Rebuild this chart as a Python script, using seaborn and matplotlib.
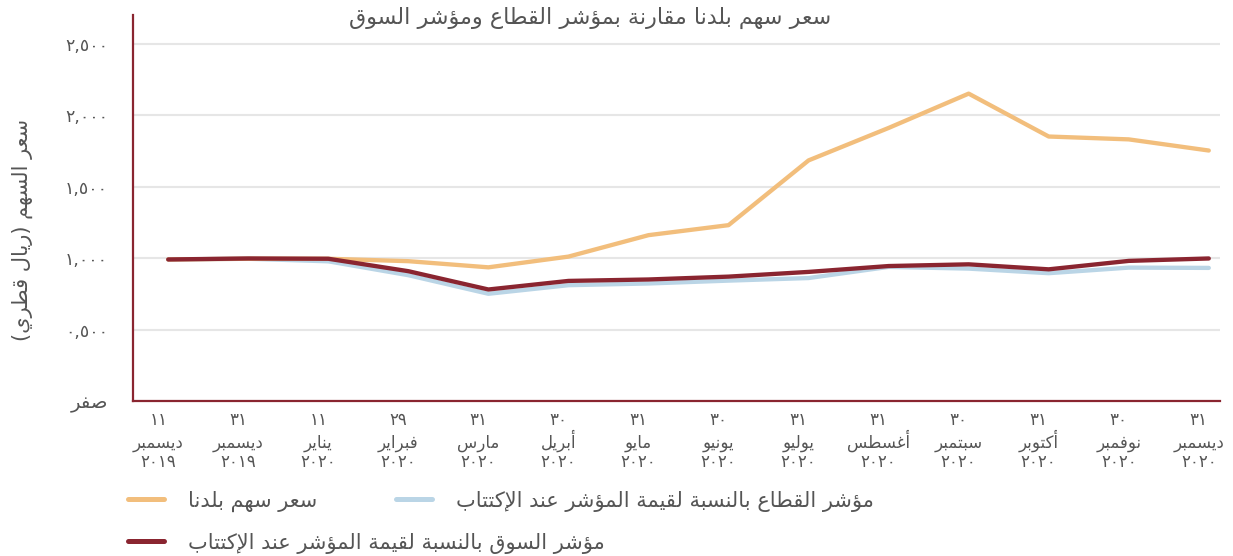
import matplotlib
matplotlib.use("Agg")
import matplotlib.pyplot as plt
import matplotlib.transforms as mtransforms
from matplotlib.lines import Line2D
import seaborn as sns
import pandas as pd

# ---------------- data ----------------
days = ['١١', '٣١', '١١', '٢٩', '٣١', '٣٠', '٣١', '٣٠', '٣١', '٣١', '٣٠', '٣١', '٣٠', '٣١']
months = ['ديسمبر', 'ديسمبر', 'يناير', 'فبراير', 'مارس', 'أبريل', 'مايو', 'يونيو',
          'يوليو', 'أغسطس', 'سبتمبر', 'أكتوبر', 'نوفمبر', 'ديسمبر']
years = ['٢٠١٩', '٢٠١٩', '٢٠٢٠', '٢٠٢٠', '٢٠٢٠', '٢٠٢٠', '٢٠٢٠', '٢٠٢٠',
         '٢٠٢٠', '٢٠٢٠', '٢٠٢٠', '٢٠٢٠', '٢٠٢٠', '٢٠٢٠']

stock_price = [0.99, 0.995, 0.995, 0.978, 0.935, 1.01, 1.16, 1.23, 1.683, 1.91, 2.15, 1.85, 1.83, 1.752]
sector_index = [0.99, 0.995, 0.977, 0.88, 0.75, 0.81, 0.822, 0.842, 0.86, 0.938, 0.926, 0.894, 0.933, 0.931]
market_index = [0.99, 0.997, 0.995, 0.908, 0.78, 0.84, 0.85, 0.87, 0.903, 0.944, 0.956, 0.921, 0.98, 0.997]

y_ticks = [0, 0.5, 1.0, 1.5, 2.0, 2.5]
y_tick_labels = ['صفر', '٠,٥٠٠', '١,٠٠٠', '١,٥٠٠', '٢,٠٠٠', '٢,٥٠٠']

title_text = 'سعر سهم بلدنا مقارنة بمؤشر القطاع ومؤشر السوق'
ylabel_text = 'سعر السهم (ريال قطري)'
series_names = ['سعر سهم بلدنا',
                'مؤشر القطاع بالنسبة لقيمة المؤشر عند الإكتتاب',
                'مؤشر السوق بالنسبة لقيمة المؤشر عند الإكتتاب']
series_colors = ['#F2BE7C', '#BAD5E6', '#8A2530']

# ---------------- minimal Arabic shaping ----------------
def _r(a, n):
    return tuple(chr(a + k) for k in range(n))

FORMS = {
    '\u0621': _r(0xFE80, 1), '\u0622': _r(0xFE81, 2), '\u0623': _r(0xFE83, 2),
    '\u0624': _r(0xFE85, 2), '\u0625': _r(0xFE87, 2), '\u0626': _r(0xFE89, 4),
    '\u0627': _r(0xFE8D, 2), '\u0628': _r(0xFE8F, 4), '\u0629': _r(0xFE93, 2),
    '\u062A': _r(0xFE95, 4), '\u062B': _r(0xFE99, 4), '\u062C': _r(0xFE9D, 4),
    '\u062D': _r(0xFEA1, 4), '\u062E': _r(0xFEA5, 4), '\u062F': _r(0xFEA9, 2),
    '\u0630': _r(0xFEAB, 2), '\u0631': _r(0xFEAD, 2), '\u0632': _r(0xFEAF, 2),
    '\u0633': _r(0xFEB1, 4), '\u0634': _r(0xFEB5, 4), '\u0635': _r(0xFEB9, 4),
    '\u0636': _r(0xFEBD, 4), '\u0637': _r(0xFEC1, 4), '\u0638': _r(0xFEC5, 4),
    '\u0639': _r(0xFEC9, 4), '\u063A': _r(0xFECD, 4), '\u0641': _r(0xFED1, 4),
    '\u0642': _r(0xFED5, 4), '\u0643': _r(0xFED9, 4), '\u0644': _r(0xFEDD, 4),
    '\u0645': _r(0xFEE1, 4), '\u0646': _r(0xFEE5, 4), '\u0647': _r(0xFEE9, 4),
    '\u0648': _r(0xFEED, 2), '\u0649': _r(0xFEEF, 2), '\u064A': _r(0xFEF1, 4),
}
LAMALEF = {'\u0622': _r(0xFEF5, 2), '\u0623': _r(0xFEF7, 2),
           '\u0625': _r(0xFEF9, 2), '\u0627': _r(0xFEFB, 2)}


def _shape(line):
    toks = []
    i = 0
    while i < len(line):
        c = line[i]
        if c == '\u0644' and i + 1 < len(line) and line[i + 1] in LAMALEF:
            toks.append(('LA', line[i + 1]))
            i += 2
        else:
            toks.append(c)
            i += 1

    def forms(t):
        if isinstance(t, tuple):
            return LAMALEF[t[1]]
        return FORMS.get(t)

    out = []
    for k, t in enumerate(toks):
        f = forms(t)
        if f is None:
            out.append(t)
            continue
        prev = forms(toks[k - 1]) if k > 0 else None
        nxt = forms(toks[k + 1]) if k + 1 < len(toks) else None
        jp = prev is not None and len(prev) == 4
        jn = len(f) == 4 and nxt is not None
        if jp and jn:
            g = f[3]
        elif jp:
            g = f[1] if len(f) > 1 else f[0]
        elif jn:
            g = f[2]
        else:
            g = f[0]
        out.append(g)
    return out


def _isnum(c):
    return ('\u0660' <= c <= '\u0669') or c in '0123456789,.'


def ar(text):
    lines = []
    for line in text.split('\n'):
        glyphs = _shape(line)
        runs = []
        for g in glyphs:
            kind = _isnum(g)
            if runs and runs[-1][0] == kind:
                runs[-1][1].append(g)
            else:
                runs.append([kind, [g]])
        vis = []
        for kind, chars in reversed(runs):
            if kind:
                vis.extend(chars)
            else:
                vis.extend(reversed(chars))
        s = ''.join(vis)
        s = s.replace('(', '\x00').replace(')', '(').replace('\x00', ')')
        lines.append(s)
    return '\n'.join(lines)


# ---------------- figure ----------------
sns.set_theme(style="white")
plt.rcParams['font.family'] = ['DejaVu Sans']
TXT = '#555555'

W, H = 1233, 556
fig = plt.figure(figsize=(W / 100, H / 100), dpi=100)
AX_H = 401 - 15
ax = fig.add_axes([133 / W, 1 - 401 / H, (1220 - 133) / W, AX_H / H])

x = list(range(len(days)))
df = pd.DataFrame({'x': x, 'stock': stock_price, 'sector': sector_index, 'market': market_index})

for col, c in zip(['sector', 'stock', 'market'], [series_colors[1], series_colors[0], series_colors[2]]):
    sns.lineplot(data=df, x='x', y=col, ax=ax, color=c, linewidth=3.1,
                 solid_capstyle='round', solid_joinstyle='round')

ax.set_xlim(-0.44, 13.14)
ax.set_ylim(0, 2.7)
ax.set_yticks(y_ticks)
ax.set_yticklabels([ar(t) for t in y_tick_labels], fontsize=12.5, color=TXT)
ax.tick_params(axis='y', length=0, pad=18)
for lab in ax.get_yticklabels():
    if lab.get_text() == ar(y_tick_labels[0]):
        lab.set_fontsize(14)
ax.set_xticks(x)
ax.set_xticklabels([])
ax.tick_params(axis='x', length=0)

# three-line date labels (day / month / year), baseline aligned, slightly left of each point
shift = mtransforms.ScaledTranslation(-10 / 100, 0, fig.dpi_scale_trans)
xtrans = ax.get_xaxis_transform() + shift
for xi, d, m, y in zip(x, days, months, years):
    ax.text(xi, -(425 - 401) / AX_H, ar(d), transform=xtrans, ha='center', va='baseline',
            fontsize=12, color=TXT, clip_on=False)
    ax.text(xi, -(448 - 401) / AX_H, ar(m), transform=xtrans, ha='center', va='baseline',
            fontsize=12, color=TXT, clip_on=False)
    ax.text(xi, -(467 - 401) / AX_H, ar(y), transform=xtrans, ha='center', va='baseline',
            fontsize=12, color=TXT, clip_on=False)

ax.set_xlabel('')
ax.set_ylabel('')
ax.grid(axis='y', color='#E6E6E6', linewidth=1.5)
ax.grid(axis='x', visible=False)
ax.set_axisbelow(True)
for s in ['top', 'right']:
    ax.spines[s].set_visible(False)
for s in ['left', 'bottom']:
    ax.spines[s].set_color('#8A2530')
    ax.spines[s].set_linewidth(1.6)

fig.text(590 / W, 1 - 18 / H, ar(title_text), ha='center', va='center', fontsize=16, color=TXT)
fig.text(22 / W, 1 - 230 / H, ar(ylabel_text), ha='center', va='center', rotation=90,
         fontsize=15, color=TXT)

# legends
leg_pos = [(128, 501), (396, 501), (128, 543)]
for name, c, (px, py) in zip(series_names, series_colors, leg_pos):
    h = Line2D([0], [0], color=c, linewidth=3.6, solid_capstyle='round')
    fig.legend([h], [ar(name)], loc='center left', bbox_to_anchor=(px / W, 1 - py / H),
               frameon=False, fontsize=15, handlelength=1.75, handletextpad=1.15,
               borderpad=0, borderaxespad=0, labelcolor=TXT)

fig.savefig('out.png', dpi=100)
